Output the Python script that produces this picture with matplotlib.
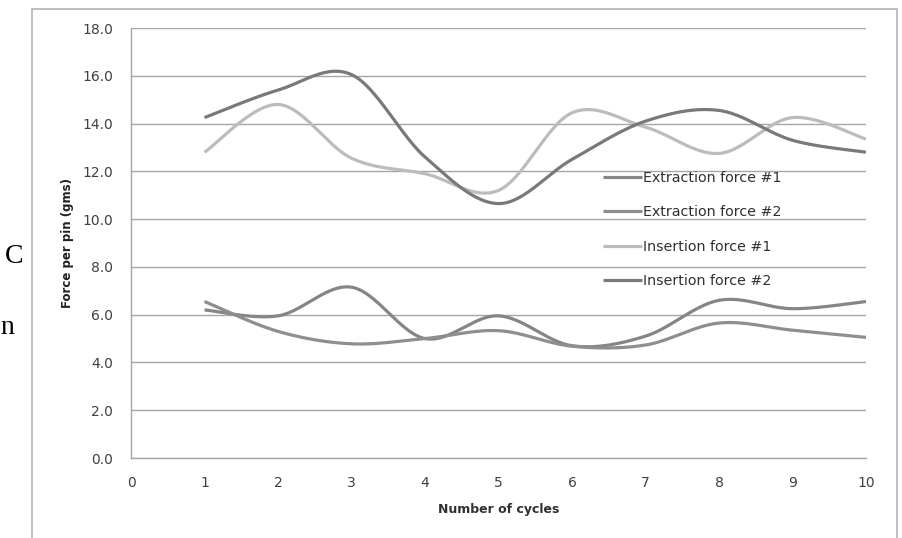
import numpy as np
import matplotlib
matplotlib.use("Agg")
import matplotlib.pyplot as plt
from matplotlib.patches import Rectangle

plt.rcParams['font.family'] = ['DejaVu Sans']

cycles = [1, 2, 3, 4, 5, 6, 7, 8, 9, 10]
extraction_1 = [6.2, 5.95, 7.15, 5.0, 5.95, 4.7, 5.1, 6.6, 6.25, 6.55]
extraction_2 = [6.55, 5.3, 4.78, 5.0, 5.33, 4.68, 4.73, 5.65, 5.35, 5.05]
insertion_1 = [12.8, 14.8, 12.55, 11.9, 11.2, 14.45, 13.85, 12.75, 14.25, 13.35]
insertion_2 = [14.25, 15.4, 16.05, 12.6, 10.65, 12.5, 14.1, 14.55, 13.3, 12.8]

yticks = [0, 2, 4, 6, 8, 10, 12, 14, 16, 18]
xticks = [0, 1, 2, 3, 4, 5, 6, 7, 8, 9, 10]


def smooth(x, y, n=30):
    # Excel-style smoothed line (Catmull-Rom through the data points)
    x = np.asarray(x, float)
    y = np.asarray(y, float)
    px = np.concatenate([[x[0]], x, [x[-1]]])
    py = np.concatenate([[y[0]], y, [y[-1]]])
    xs, ys = [], []
    t = np.linspace(0, 1, n)
    for i in range(1, len(px) - 2):
        p0, p1, p2, p3 = (np.array([px[j], py[j]]) for j in range(i - 1, i + 3))
        c1 = p1 + (p2 - p0) / 6
        c2 = p2 - (p3 - p1) / 6
        b = ((1 - t) ** 3)[:, None] * p1 + (3 * (1 - t) ** 2 * t)[:, None] * c1 \
            + (3 * (1 - t) * t ** 2)[:, None] * c2 + (t ** 3)[:, None] * p2
        xs.extend(b[:, 0])
        ys.extend(b[:, 1])
    return xs, ys


fig = plt.figure(figsize=(9.02, 5.38), dpi=100)
ax = fig.add_axes([131 / 902, 1 - 458 / 538, 735 / 902, 430 / 538])

# outer chart border
fig.patches.append(Rectangle((32 / 902, -0.1), 865 / 902, 1.1 - 9 / 538,
                             transform=fig.transFigure, fill=False,
                             edgecolor='#b4b4b4', lw=1.2))

series = [
    (extraction_1, '#858585', 'Extraction force #1'),
    (extraction_2, '#8e8e92', 'Extraction force #2'),
    (insertion_1, '#bcbcbc', 'Insertion force #1'),
    (insertion_2, '#797979', 'Insertion force #2'),
]
for vals, col, lab in series:
    sx, sy = smooth(cycles, vals)
    ax.plot(sx, sy, color=col, lw=2.3, label=lab, solid_capstyle='butt')

ax.set_xlim(0, 10)
ax.set_ylim(0, 18)
ax.set_yticks(yticks)
ax.set_yticklabels([f'{v:.1f}' for v in yticks])
ax.set_xticks(xticks)
ax.grid(axis='y', color='#a6a6a6', lw=1)
ax.set_axisbelow(True)
for s in ['top', 'right']:
    ax.spines[s].set_visible(False)
for s in ['left', 'bottom']:
    ax.spines[s].set_color('#a6a6a6')
    ax.spines[s].set_linewidth(1)
ax.tick_params(length=0, labelsize=10, colors='#404040')
ax.tick_params(axis='y', pad=13)
ax.tick_params(axis='x', pad=13)

ax.set_ylabel('Force per pin (gms)', fontsize=8.5, fontweight='bold', color='#202020', labelpad=6)
ax.set_xlabel('Number of cycles', fontsize=9, fontweight='bold', color='#303030', labelpad=9)

leg = ax.legend(loc='upper left', bbox_to_anchor=(472 / 735, (458 - 171) / 430),
                frameon=False, fontsize=10.3, labelspacing=1.42, handlelength=2.7,
                handletextpad=0.12, borderpad=0, borderaxespad=0)
for t in leg.get_texts():
    t.set_color('#303030')

# cut-off text of the surrounding document
fig.text(5 / 902, 1 - 257 / 538, 'C', fontsize=20, family='Liberation Serif', va='center')
fig.text(0 / 902, 1 - 328 / 538, 'n', fontsize=20, family='Liberation Serif', va='center')

fig.savefig('out.png', dpi=100)
